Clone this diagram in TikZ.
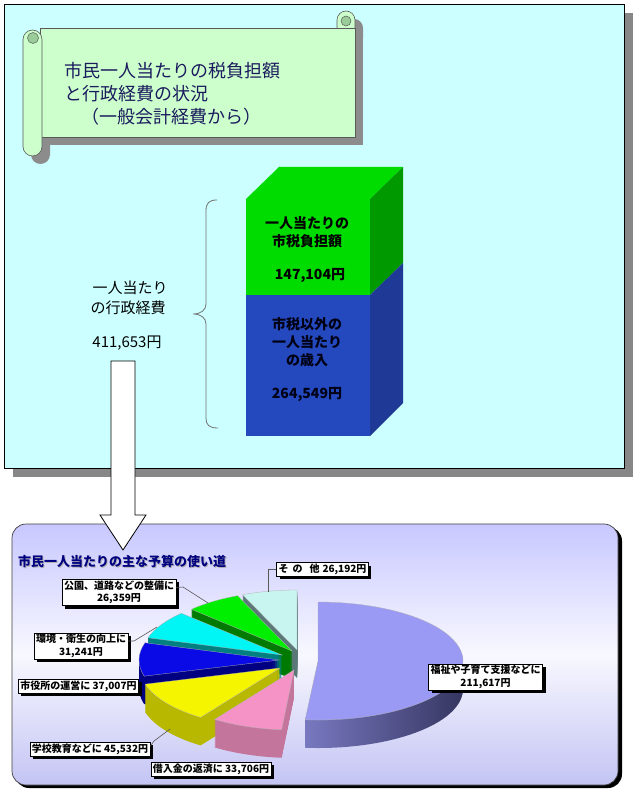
\documentclass[tikz,border=0pt]{standalone}
\usepackage{fontspec}
\setmainfont{Noto Sans CJK JP}
\usetikzlibrary{shadows}
\definecolor{topbg}{HTML}{CCFFFF}
\definecolor{scrollbg}{HTML}{CCFFCC}
\definecolor{scrolldark}{HTML}{99CC99}
\definecolor{titlenavy}{HTML}{1B1B5E}
\definecolor{grnfront}{HTML}{00DC00}
\definecolor{grnside}{HTML}{009900}
\definecolor{bluefront}{HTML}{2449BF}
\definecolor{blueside}{HTML}{1F3A96}
\definecolor{lavtop}{HTML}{C8C8FF}
\definecolor{lavmid}{HTML}{F8F8FF}
\definecolor{lavbot}{HTML}{C4C4F4}
\definecolor{pienavy}{HTML}{000080}
\definecolor{fukushiT}{HTML}{9A9AF5}
\definecolor{fukushiL}{HTML}{7878C0}
\definecolor{fukushiR}{HTML}{34345F}
\definecolor{pinkT}{HTML}{F592C6}
\definecolor{pinkS}{HTML}{C4759B}
\definecolor{yelT}{HTML}{F5F500}
\definecolor{yelS}{HTML}{B8B800}
\definecolor{bluT}{HTML}{0A0AE6}
\definecolor{bluS}{HTML}{000080}
\definecolor{cyaT}{HTML}{00F5F5}
\definecolor{cyaS}{HTML}{008080}
\definecolor{greT}{HTML}{00EE00}
\definecolor{greS}{HTML}{007A00}
\definecolor{othT}{HTML}{C8F5F0}
\definecolor{othS}{HTML}{5A7878}
% #1 cx, #2 cy (screen px), #3 rx, #4 ry, #5 a1, #6 a2, #7 top style, #8 side style
\newcommand\pieslice[8]{%
  \foreach \t in {1,...,28}{%
    \path[#8] (#1,-#2-\t) -- ++({#3*cos(#5)},{#4*sin(#5)}) arc[start angle=#5,end angle=#6,x radius=#3,y radius=#4] -- cycle;}
  \path[#7,draw=black!30,line width=0.3pt] (#1,-#2) -- ++({#3*cos(#5)},{#4*sin(#5)}) arc[start angle=#5,end angle=#6,x radius=#3,y radius=#4] -- cycle;
}
\newcommand\scrollshape[1]{%
  \path[#1] (337,-30) -- (337,-20) arc[start angle=180,end angle=0,radius=9] -- (355,-30) -- cycle;
  \path[#1] (40,-28) rectangle (355,-137);
  \path[#1,rounded corners=9.5pt] (23,-30) rectangle (42,-156);
}
\begin{document}
\begin{tikzpicture}[x=1pt,y=1pt,
  lbl/.style={draw=black, fill=white, line width=0.6pt,
    font=\bfseries\fontsize{10}{12.5}\selectfont, inner xsep=2pt, inner ysep=1.5pt,
    align=center, drop shadow={shadow xshift=3pt, shadow yshift=-3pt, fill=black, opacity=1}},
  bartxt/.style={font=\bfseries\fontsize{14}{14}\selectfont, inner sep=0pt},
  lefttxt/.style={font=\fontsize{15}{15}\selectfont, inner sep=0pt},
  titletxt/.style={font=\fontsize{18}{18}\selectfont, inner sep=0pt, anchor=west, text=titlenavy},
  leader/.style={draw=black!65, line width=0.6pt},
  ]
\useasboundingbox (0,0) rectangle (639,-794);
\fill[white] (0,0) rectangle (639,-794);

% ---------- top panel ----------
\fill[black!47] (13,-13) rectangle (633,-477);
\draw[fill=topbg, line width=0.8pt] (4,-4) rectangle (624,-468);

% scroll
\begin{scope}[shift={(8,-8)}]
  \scrollshape{fill=black!45}
\end{scope}
\scrollshape{fill=scrollbg, draw=black!65, line width=0.6pt}
\draw[fill=scrolldark, draw=black!65, line width=0.5pt] (33,-38) circle[radius=5.5];
\draw[fill=scrolldark, draw=black!65, line width=0.5pt] (346,-21) circle[radius=5];
\node[titletxt] (t1) at (64,-71) {市民一人当たりの税負担額};
\node[titletxt] (t2) at (64,-94) {と行政経費の状況};
\node[titletxt] (t3) at (81,-117) {（一般会計経費から）};

% 3D bar
\fill[grnfront] (246,-199) -- (279,-167) -- (403,-167) -- (370,-199) -- cycle;
\fill[grnside] (370,-199) -- (403,-167) -- (403,-263) -- (370,-295) -- cycle;
\fill[blueside] (370,-295) -- (403,-263) -- (403,-403) -- (370,-436) -- cycle;
\fill[grnfront] (246,-199) rectangle (370,-295);
\fill[bluefront] (246,-295) rectangle (370,-436);

\node[bartxt] (g1) at (307,-223) {一人当たりの};
\node[bartxt] (g2) at (307,-241) {市税負担額};
\node[bartxt] (g3) at (310,-276) {147,104円};
\node[bartxt, text=black!92!blue] (b1) at (307,-324) {市税以外の};
\node[bartxt, text=black!92!blue] (b2) at (307,-342) {一人当たり};
\node[bartxt, text=black!92!blue] (b3) at (307,-360) {の歳入};
\node[bartxt, text=black!92!blue] (b4) at (307,-395) {264,549円};

% brace
\draw[black!55, line width=0.8pt] (217,-200) .. controls (209,-200) and (206,-203) .. (206,-211) -- (206,-304)
  .. controls (206,-310) and (201,-314) .. (193,-314)
  .. controls (201,-314) and (206,-318) .. (206,-324) -- (206,-418)
  .. controls (206,-425) and (209,-428) .. (218,-428);

\node[lefttxt] (l1) at (130,-288) {一人当たり};
\node[lefttxt] (l2) at (128,-308) {の行政経費};
\node[lefttxt] (l3) at (127,-343) {411,653円};

% ---------- bottom panel ----------
\fill[black, rounded corners=14pt] (15,-527) rectangle (622,-788);
\draw[rounded corners=14pt, top color=lavtop, bottom color=lavbot, middle color=lavmid,
  draw=black!75, line width=0.7pt] (12,-524) rectangle (618,-785);

\node[anchor=west, inner sep=0pt, font=\bfseries\fontsize{13}{13}\selectfont, text=black!30] at (19,-563) {市民一人当たりの主な予算の使い道};
\node[anchor=west, inner sep=0pt, font=\bfseries\fontsize{13}{13}\selectfont, text=pienavy] (ptitle) at (18,-562) {市民一人当たりの主な予算の使い道};

% pie slices (back to front)
\pieslice{297}{650}{140}{60}{90}{112.9}{fill=othT}{fill=othS}
\pieslice{292}{651}{140}{60}{112.9}{135.95}{fill=greT}{fill=greS}
\pieslice{282}{655}{140}{60}{135.95}{163.27}{fill=cyaT}{fill=cyaS}
\pieslice{279}{660}{140}{60}{163.27}{195.63}{fill=bluT}{fill=bluS}
\pieslice{280}{668}{140}{60}{-164.37}{-124.55}{fill=yelT}{fill=yelS}
\pieslice{294}{670}{140}{60}{-124.55}{-95.07}{fill=pinkT}{fill=pinkS}
\pieslice{318}{661}{145}{59}{-95.07}{90}{fill=fukushiT}{left color=fukushiL, right color=fukushiR}

% leader anchor points on slices
\coordinate (p7) at (268,-592);
\coordinate (p6a) at (183,-587);
\coordinate (p6) at (208,-603);
\coordinate (p5a) at (134,-641);
\coordinate (p5) at (157,-627);
\coordinate (p3a) at (154,-741);
\coordinate (p3) at (170,-729);

% labels
\node[lbl] (L7) at (322.5,-569.5) {そ\hspace{4pt}の\hspace{7pt}他\hspace{3pt}26,192円};
\node[lbl] (L6) at (119,-592.5) {公園、道路などの整備に\\26,359円};
\node[lbl] (L5) at (81,-646) {環境・衛生の向上に\\31,241円};
\node[lbl] (L4) at (78.5,-686) {市役所の運営に 37,007円};
\node[lbl] (L3) at (90,-749) {学校教育などに 45,532円};
\node[lbl] (L2) at (211,-769) {借入金の返済に 33,706円};
\node[lbl] (L1) at (485.5,-677) {福祉や子育て支援などに\\211,617円};

\draw[leader] (L7.west) -| (p7);
\draw[leader] ([yshift=5pt]L6.east) -- (p6a) -- (p6);
\draw[leader] ([yshift=5pt]L5.east) -- (p5a) -- (p5);
\draw[leader] ([yshift=3pt]L3.east) -- (p3a) -- (p3);

% ---------- big arrow ----------
\draw[fill=white, line width=0.8pt] (111,-361) -- (135,-361) -- (135,-515) -- (146,-515)
  -- (123,-550) -- (100,-515) -- (111,-515) -- cycle;
\end{tikzpicture}
\end{document}
